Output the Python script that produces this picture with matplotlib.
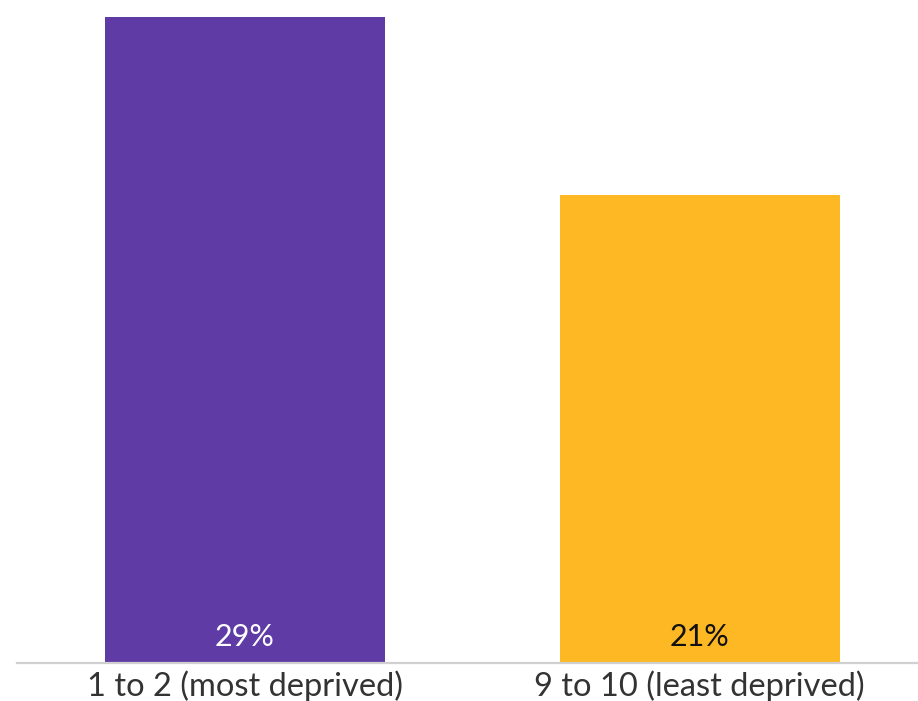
import matplotlib
matplotlib.use("Agg")
import matplotlib.pyplot as plt

categories = ["1 to 2 (most deprived)", "9 to 10 (least deprived)"]
values = [29, 21]
bar_colors = ["#5F3BA6", "#FDB823"]
label_colors = ["white", "#111111"]

plt.rcParams["font.family"] = ["Lato", "DejaVu Sans"]

fig = plt.figure(figsize=(9.18, 7.01), dpi=100)
ax = fig.add_axes([17 / 918, 38 / 701, 901 / 918, 663 / 701])

x = [0, 1]
ax.bar(x, values, width=0.616, color=bar_colors, zorder=2)

for xi, v, c in zip(x, values, label_colors):
    ax.text(xi, 0.55, f"{v}%", ha="center", va="bottom", color=c, fontsize=22)

ax.set_xlim(-0.5017, 1.4807)
ax.set_ylim(0, 29 * 663 / 646)

for side in ["top", "right", "left"]:
    ax.spines[side].set_visible(False)
ax.spines["bottom"].set_color("#D0D0D0")
ax.spines["bottom"].set_linewidth(1.6)
ax.set_yticks([])
ax.set_xticks(x)
ax.set_xticklabels(categories, fontsize=23.5, color="#333333")
ax.tick_params(axis="x", length=0, pad=5)

fig.savefig("out.png", dpi=100)
